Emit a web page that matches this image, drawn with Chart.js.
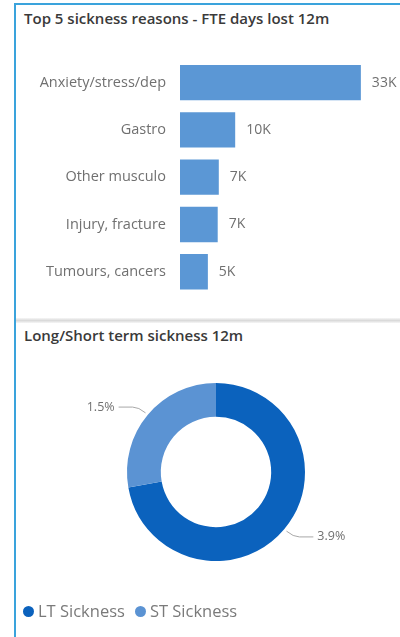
<!DOCTYPE html>
<html>
<head>
<meta charset="utf-8">
<script src="https://cdn.jsdelivr.net/npm/chart.js@4"></script>
<style>
  body { margin: 0; width: 400px; height: 637px; background: #fff; overflow: hidden; position: relative; font-family: 'Open Sans', sans-serif; }
  #frame { position: absolute; left: 14px; top: 3px; width: 420px; height: 700px; border-left: 2px solid #3aa3dc; border-top: 2px solid #3aa3dc; }
  #sep { position: absolute; left: 16px; top: 318px; width: 384px; height: 5px; background: linear-gradient(#f6f6f6, #dadada, #f6f6f6); }
  .title { position: absolute; left: 24px; font-size: 15px; line-height: 15px; font-weight: 600; color: #3a3a3a; white-space: nowrap; }
  canvas { position: absolute; left: 0; }
  #legend { position: absolute; left: 23px; top: 601px; display: flex; align-items: center; font-size: 16.5px; line-height: 20px; color: #7a7a7a; }
  #legend .dot { width: 11px; height: 11px; border-radius: 50%; display: inline-block; margin-right: 4px; }
  #legend .item { display: flex; align-items: center; margin-right: 10px; }
</style>
</head>
<body>
<div id="frame"></div>
<div id="sep"></div>
<div class="title" style="top:11px">Top 5 sickness reasons - FTE days lost 12m</div>
<canvas id="bars" width="400" height="318" style="top:0"></canvas>
<div class="title" style="top:328px">Long/Short term sickness 12m</div>
<canvas id="donut" width="400" height="314" style="top:323px"></canvas>
<div id="legend"></div>

<script>
const reasons = ['Anxiety/stress/dep', 'Gastro', 'Other musculo', 'Injury, fracture', 'Tumours, cancers'];
const daysLost = [33100, 10100, 7100, 6900, 5100];

const termLabels = ['LT Sickness', 'ST Sickness'];
const termRates = [3.9, 1.5];
const termColors = ['#0b62bd', '#5b93d3'];

const FONT = "'Open Sans', sans-serif";

const barValueLabels = {
    id: 'barValueLabels',
    afterDatasetsDraw(chart) {
        const ctx = chart.ctx;
        const meta = chart.getDatasetMeta(0);
        ctx.save();
        ctx.font = '14px ' + FONT;
        ctx.fillStyle = '#707070';
        ctx.textBaseline = 'middle';
        meta.data.forEach((bar, i) => {
            ctx.fillText(Math.round(daysLost[i] / 1000) + 'K', bar.x + 11, bar.y);
        });
        ctx.restore();
    }
};

const donutLabels = {
    id: 'donutLabels',
    afterDatasetsDraw(chart) {
        const ctx = chart.ctx;
        const meta = chart.getDatasetMeta(0);
        ctx.save();
        ctx.font = '12.5px ' + FONT;
        ctx.fillStyle = '#707070';
        ctx.strokeStyle = '#a8a8a8';
        ctx.lineWidth = 1;
        ctx.textBaseline = 'middle';
        meta.data.forEach((arc, i) => {
            const mid = (arc.startAngle + arc.endAngle) / 2;
            const dx = Math.cos(mid), dy = Math.sin(mid);
            const side = dx < 0 ? -1 : 1;
            const x0 = arc.x + dx * (arc.outerRadius + 3), y0 = arc.y + dy * (arc.outerRadius + 3);
            const x1 = arc.x + dx * (arc.outerRadius + 12), y1 = arc.y + dy * (arc.outerRadius + 12);
            const x2 = x1 + side * 20;
            ctx.beginPath();
            ctx.moveTo(x0, y0);
            ctx.quadraticCurveTo(x1, y1, x1 + side * 6, y1);
            ctx.lineTo(x2, y1);
            ctx.stroke();
            ctx.textAlign = side < 0 ? 'right' : 'left';
            ctx.fillText(termRates[i].toFixed(1) + '%', x2 + side * 4, y1);
        });
        ctx.restore();
    }
};

new Chart(document.getElementById('bars'), {
    type: 'bar',
    data: {
        labels: reasons,
        datasets: [{ data: daysLost, backgroundColor: '#5b97d5', barPercentage: 0.75, categoryPercentage: 1 }]
    },
    options: {
        indexAxis: 'y',
        responsive: false,
        animation: false,
        events: [],
        layout: { padding: { left: 16, right: 20, top: 59, bottom: 18 } },
        plugins: { legend: { display: false }, tooltip: { enabled: false } },
        scales: {
            x: { display: false, min: 0, max: 36600 },
            y: {
                grid: { display: false, drawTicks: false },
                border: { display: false },
                ticks: { color: '#707070', font: { size: 14.5, family: FONT }, padding: 14 },
                afterFit: (s) => { s.width = 164; }
            }
        }
    },
    plugins: [barValueLabels]
});

new Chart(document.getElementById('donut'), {
    type: 'doughnut',
    data: {
        labels: termLabels,
        datasets: [{ data: termRates, backgroundColor: termColors, borderWidth: 0 }]
    },
    options: {
        responsive: false,
        animation: false,
        events: [],
        cutout: '62%',
        layout: { padding: { left: 127, right: 95, top: 60, bottom: 76 } },
        plugins: { legend: { display: false }, tooltip: { enabled: false } }
    },
    plugins: [donutLabels]
});

const legend = document.getElementById('legend');
termLabels.forEach((name, i) => {
    const item = document.createElement('span');
    item.className = 'item';
    item.innerHTML = `<span class="dot" style="background:${termColors[i]}"></span>${name}`;
    legend.appendChild(item);
});
</script>
</body>
</html>
